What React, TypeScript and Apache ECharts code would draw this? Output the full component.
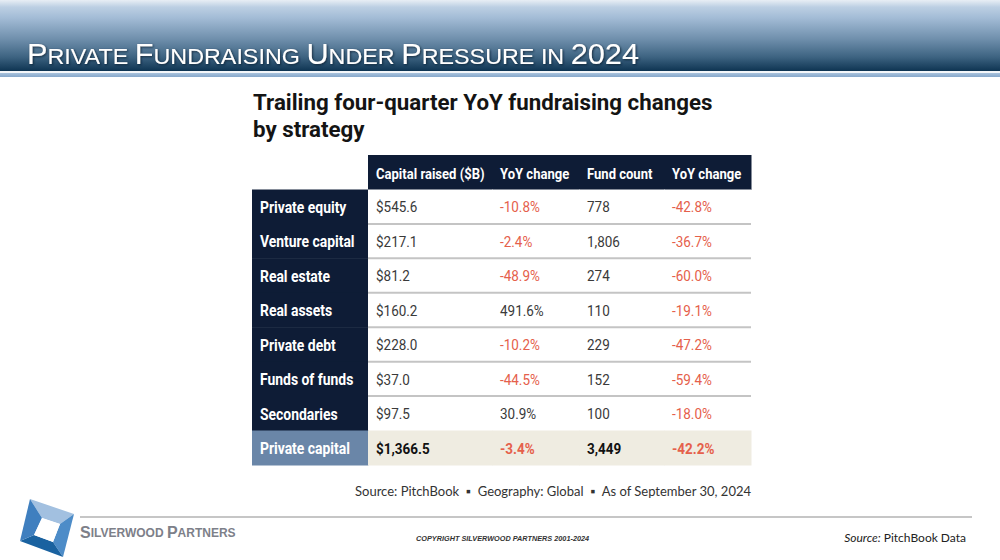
import React, { useEffect, useRef } from "react";
import * as echarts from "echarts";

// ---------- data ----------
const pageTitle = "Private Fundraising Under Pressure in 2024";
const tableTitle = ["Trailing four-quarter YoY fundraising changes", "by strategy"];
const columnHeaders = ["Capital raised ($B)", "YoY change", "Fund count", "YoY change"];
const strategies = [
  "Private equity",
  "Venture capital",
  "Real estate",
  "Real assets",
  "Private debt",
  "Funds of funds",
  "Secondaries",
  "Private capital",
];
const capitalRaised = [545.6, 217.1, 81.2, 160.2, 228.0, 37.0, 97.5, 1366.5];
const capitalYoY = [-10.8, -2.4, -48.9, 491.6, -10.2, -44.5, 30.9, -3.4];
const fundCount = [778, 1806, 274, 110, 229, 152, 100, 3449];
const fundYoY = [-42.8, -36.7, -60.0, -19.1, -47.2, -59.4, -18.0, -42.2];
const sourceNote = "Source: PitchBook  \u25AA  Geography: Global  \u25AA  As of September 30, 2024";
const companyName = "Silverwood Partners";
const copyright = "COPYRIGHT SILVERWOOD PARTNERS 2001-2024";
const footSourceLabel = "Source:";
const footSourceText = " PitchBook Data";

// ---------- layout / style ----------
const COL_EDGES = [0, 116, 240, 327, 412, 499];
const NAVY = "#0e1c36";
const SLATE = "#6a86a8";
const BEIGE = "#efece1";
const RED = "#e5604b";
const TXT = "#3a3a3a";
const TFONT = "Roboto, 'Noto Sans', sans-serif";
const CONDENSE = 0.87;
const ARIAL = "'Liberation Sans', Arial, sans-serif";

const fmtMoney = (v: number) =>
  "$" + v.toLocaleString("en-US", { minimumFractionDigits: 1, maximumFractionDigits: 1 });
const fmtPct = (v: number) => v.toFixed(1) + "%";
const fmtCount = (v: number) => v.toLocaleString("en-US");

type Cell = { col: number; row: number; text: string; kind: string; neg?: boolean };

function buildCells(): Cell[] {
  const cells: Cell[] = [];
  cells.push({ col: 0, row: 0, text: "", kind: "blank" });
  columnHeaders.forEach((h, i) => cells.push({ col: i + 1, row: 0, text: h, kind: "head" }));
  strategies.forEach((s, i) => {
    const row = i + 1;
    const total = i === strategies.length - 1;
    cells.push({ col: 0, row, text: s, kind: total ? "totalLabel" : "label" });
    const vk = total ? "totalValue" : "value";
    cells.push({ col: 1, row, text: fmtMoney(capitalRaised[i]), kind: vk });
    cells.push({ col: 2, row, text: fmtPct(capitalYoY[i]), kind: vk, neg: capitalYoY[i] < 0 });
    cells.push({ col: 3, row, text: fmtCount(fundCount[i]), kind: vk });
    cells.push({ col: 4, row, text: fmtPct(fundYoY[i]), kind: vk, neg: fundYoY[i] < 0 });
  });
  return cells;
}

function richSmallCaps(t: string) {
  return t
    .split(" ")
    .map((w) => {
      const first = w[0];
      if (/[0-9]/.test(first)) return "{b|" + w + "}";
      if (first === first.toUpperCase()) return "{b|" + first + "}{s|" + w.slice(1).toUpperCase() + "}";
      return "{s|" + w.toUpperCase() + "}";
    })
    .join("{s| }");
}

export default function App() {
  const ref = useRef<HTMLDivElement>(null);
  useEffect(() => {
    if (!ref.current) return;
    const chart = echarts.init(ref.current, undefined, { renderer: "svg" });
    const cells = buildCells();
    const rowKeys = ["header", ...strategies];
    const nBody = strategies.length;

    const renderItem = (params: any, api: any) => {
      const cell = cells[params.dataIndex];
      const r = api.value(1);
      const p0 = api.coord([COL_EDGES[cell.col], r]);
      const p1 = api.coord([COL_EDGES[cell.col + 1], r]);
      const h = api.size([0, 1])[1];
      const x = p0[0];
      const w = p1[0] - p0[0];
      const cy = p0[1];
      const y = cy - h / 2;
      const children: any[] = [];
      let fill = "#ffffff";
      let color = TXT;
      let weight: any = "normal";
      let size = 15.5;
      if (cell.kind === "head") { fill = NAVY; color = "#ffffff"; weight = "bold"; size = 15; }
      if (cell.kind === "label") { fill = NAVY; color = "#ffffff"; weight = "bold"; size = 16; }
      if (cell.kind === "totalLabel") { fill = SLATE; color = "#ffffff"; weight = "bold"; size = 16; }
      if (cell.kind === "totalValue") { fill = BEIGE; color = "#111111"; weight = "bold"; }
      if (cell.neg) color = RED;
      if (cell.kind !== "blank") {
        children.push({
          type: "rect",
          shape: { x, y, width: w + 0.5, height: h + 0.5 },
          style: { fill },
          z2: 0,
        });
      }
      if (cell.kind === "value" && cell.row < nBody - 1) {
        children.push({
          type: "line",
          shape: { x1: x, y1: y + h, x2: x + w, y2: y + h },
          style: { stroke: "#c4c4c4", lineWidth: 2 },
          z2: 1,
        });
      }
      if (cell.text) {
        children.push({
          type: "text",
          x: x + 8,
          y: cy + 1,
          scaleX: CONDENSE,
          z2: 5,
          style: {
            x: 0,
            y: 0,
            text: cell.text,
            fill: color,
            fontFamily: TFONT,
            fontSize: size,
            fontWeight: weight,
            align: "left",
            verticalAlign: "middle",
          },
        });
      }
      return { type: "group", children };
    };

    // logo geometry
    const O = [[30, 499], [74, 514], [63, 557], [20, 541]];
    const I = [[42, 518], [60, 524], [53, 542], [34, 535]];
    const band = (a: number, b: number, color: string) => ({
      type: "polygon",
      shape: { points: [O[a], O[b], I[b], I[a]] },
      style: { fill: color },
    });

    const capsStyle = (size: number, extra: any = {}) => ({
      fontFamily: ARIAL,
      fontSize: size,
      fill: "#ffffff",
      verticalAlign: "bottom",
      textShadowColor: "rgba(10,30,50,0.85)",
      textShadowBlur: 2,
      textShadowOffsetX: 1,
      textShadowOffsetY: 1,
      ...extra,
    });

    const titleStyle = (text: string) => ({
      text,
      fontFamily: TFONT,
      fontSize: 22.3,
      fontWeight: "bold",
      fill: "#141414",
      verticalAlign: "middle",
    });

    const option: any = {
      animation: false,
      backgroundColor: "#ffffff",
      grid: { left: 252, right: 249, top: 155, bottom: 95 },
      xAxis: { type: "value", min: 0, max: 499, show: false },
      yAxis: { type: "category", data: rowKeys, inverse: true, show: false },
      series: [
        {
          type: "custom",
          clip: false,
          renderItem,
          data: cells.map((c) => [c.col, c.row]),
        },
      ],
      graphic: [
        {
          type: "rect",
          shape: { x: 0, y: 0, width: 1000, height: 71 },
          style: {
            fill: new echarts.graphic.LinearGradient(0, 0, 0, 1, [
              { offset: 0, color: "#e8eef5" },
              { offset: 0.1, color: "#bccfe3" },
              { offset: 0.25, color: "#a3bcd6" },
              { offset: 0.55, color: "#6f8fac" },
              { offset: 0.8, color: "#3e6482" },
              { offset: 1, color: "#0e3452" },
            ]),
          },
        },
        { type: "rect", shape: { x: 0, y: 71, width: 1000, height: 2 }, style: { fill: "#f4f7fa" } },
        {
          type: "rect",
          shape: { x: 0, y: 73, width: 1000, height: 4 },
          style: {
            fill: new echarts.graphic.LinearGradient(0, 0, 0, 1, [
              { offset: 0, color: "#a9c3dd" },
              { offset: 1, color: "#86a8cb" },
            ]),
          },
        },
        {
          type: "text",
          x: 27,
          y: 68,
          scaleX: 1.06,
          style: {
            text: richSmallCaps(pageTitle),
            verticalAlign: "bottom",
            align: "left",
            rich: {
              b: capsStyle(29),
              s: capsStyle(22, { padding: [0, 0, 1, 0] }),
            },
          },
        },
        { type: "text", x: 253, y: 102, style: titleStyle(tableTitle[0]) },
        { type: "text", x: 253, y: 129, style: titleStyle(tableTitle[1]) },
        {
          type: "text",
          x: 751,
          y: 491,
          style: {
            text: sourceNote,
            fontFamily: "Lato, sans-serif",
            fontSize: 13,
            fill: "#333333",
            align: "right",
            verticalAlign: "middle",
          },
        },
        {
          type: "line",
          shape: { x1: 80, y1: 517, x2: 972, y2: 517 },
          style: { stroke: "#b3b3b3", lineWidth: 1.5 },
        },
        band(0, 1, "#a2c0e0"),
        band(1, 2, "#4d8cc8"),
        band(2, 3, "#1a62a0"),
        band(3, 0, "#3f7fbf"),
        {
          type: "polygon",
          shape: { points: I },
          style: { fill: "#ffffff" },
        },
        {
          type: "text",
          x: 80,
          y: 540,
          style: {
            text: companyName
              .split(" ")
              .map((w) => "{b|" + w[0] + "}{s|" + w.slice(1).toUpperCase() + "}")
              .join("{s| }"),
            verticalAlign: "bottom",
            rich: {
              b: { fontFamily: ARIAL, fontWeight: "bold", fontSize: 16, fill: "#7d8089", verticalAlign: "bottom" },
              s: {
                fontFamily: ARIAL,
                fontWeight: "bold",
                fontSize: 12,
                fill: "#7d8089",
                verticalAlign: "bottom",
                padding: [0, 0, 1, 0],
              },
            },
          },
        },
        {
          type: "text",
          x: 416,
          y: 538,
          style: {
            text: copyright,
            fontFamily: ARIAL,
            fontSize: 7.3,
            fontWeight: "bold",
            fontStyle: "italic",
            fill: "#333333",
            verticalAlign: "middle",
          },
        },
        {
          type: "text",
          x: 966,
          y: 537,
          style: {
            text: "{i|" + footSourceLabel + "}{n|" + footSourceText + "}",
            align: "right",
            verticalAlign: "middle",
            rich: {
              i: { fontFamily: "Lato, sans-serif", fontSize: 12, fontStyle: "italic", fill: "#222222" },
              n: { fontFamily: "Lato, sans-serif", fontSize: 12, fill: "#222222" },
            },
          },
        },
      ],
    };
    chart.setOption(option);
    return () => chart.dispose();
  }, []);
  return (
    <div
      ref={ref}
      style={{ position: "fixed", left: 0, top: 0, width: 1000, height: 560, background: "#fff" }}
    />
  );
}
